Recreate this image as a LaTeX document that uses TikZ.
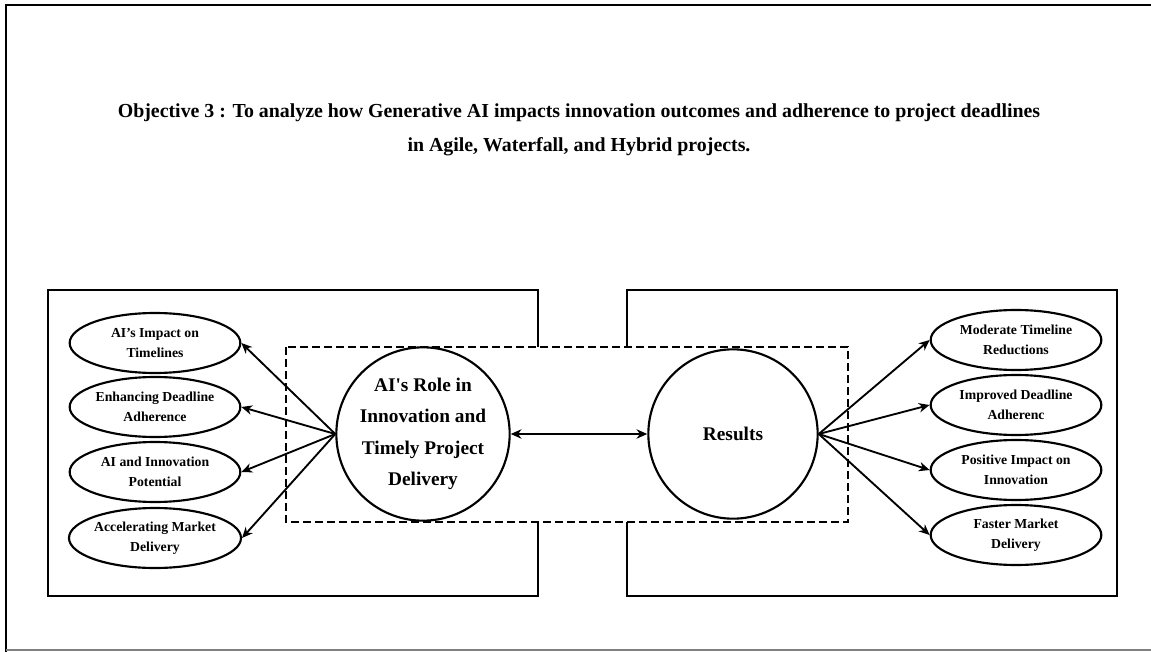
\documentclass[tikz,border=0pt]{standalone}
\usepackage{fontspec}
\setmainfont{Liberation Serif}
\usetikzlibrary{arrows.meta,shapes.geometric}

\begin{document}
\begin{tikzpicture}[x=0.75pt, y=-0.75pt,
    every node/.style = {font=\bfseries},
    area/.style = {draw, line width=1.6pt},
    focus/.style = {draw, line width=1.4pt, dash pattern=on 6pt off 3pt, fill=white},
    hub/.style = {draw, circle, line width=1.6pt, align=center, inner sep=0pt,
                  font=\bfseries\fontsize{14.5}{23.5}\selectfont},
    item/.style = {draw, ellipse, line width=1.6pt, align=center, inner sep=0pt,
                   minimum width=128pt, minimum height=45pt,
                   font=\bfseries\fontsize{10.3}{15}\selectfont},
    link/.style = {-{Stealth[length=8pt,width=7pt,inset=2.5pt]}, line width=1.4pt},
    both/.style = {{Stealth[length=8pt,width=7pt,inset=2.5pt]}-{Stealth[length=8pt,width=7pt,inset=2.5pt]}, line width=1.4pt}]

\useasboundingbox (0,0) rectangle (1151,652);

% page frame
\draw[line width=1.8pt] (6,652) -- (6,5) -- (1151,5);
\draw[gray, line width=1.8pt] (6,650) -- (1151,650);

\node[align=center, font=\bfseries\fontsize{14.9}{25.5}\selectfont] (title) at (579,130)
    {Objective 3 : To analyze how Generative AI impacts innovation outcomes and adherence to project deadlines\\
     in Agile, Waterfall, and Hybrid projects.};

% two panels behind the dashed frame
\draw[area] (48,290) rectangle (538,596);
\draw[area] (627,290) rectangle (1117,596);
\draw[focus] (286,347) rectangle (848,522);

\node[hub, minimum size=130pt] (role) at (423,434)
    {AI\textquotesingle s Role in\\Innovation and\\Timely Project\\Delivery};
\node[hub, minimum size=127pt] (results) at (733,434) {Results};

\node[item] (impact) at (155,343) {AI’s Impact on\\Timelines};
\node[item] (deadline) at (155,407) {Enhancing Deadline\\Adherence};
\node[item] (potential) at (155,472) {AI and Innovation\\Potential};
\node[item] (market) at (155,538) {Accelerating Market\\Delivery};

\node[item] (reduce) at (1016,340) {Moderate Timeline\\Reductions};
\node[item] (adhere) at (1016,405) {Improved Deadline\\Adherenc};
\node[item] (positive) at (1016,470) {Positive Impact on\\Innovation};
\node[item] (faster) at (1016,535) {Faster Market\\Delivery};

\draw[both] (role.east) -- (results.west);

\draw[link] (role.west) -- (impact.east);
\draw[link] (role.west) -- (deadline.east);
\draw[link] (role.west) -- (potential.east);
\draw[link] (role.west) -- (market.east);

\draw[link] (results.east) -- (reduce.west);
\draw[link] (results.east) -- (adhere.west);
\draw[link] (results.east) -- (positive.west);
\draw[link] (results.east) -- (faster.west);

\end{tikzpicture}
\end{document}
